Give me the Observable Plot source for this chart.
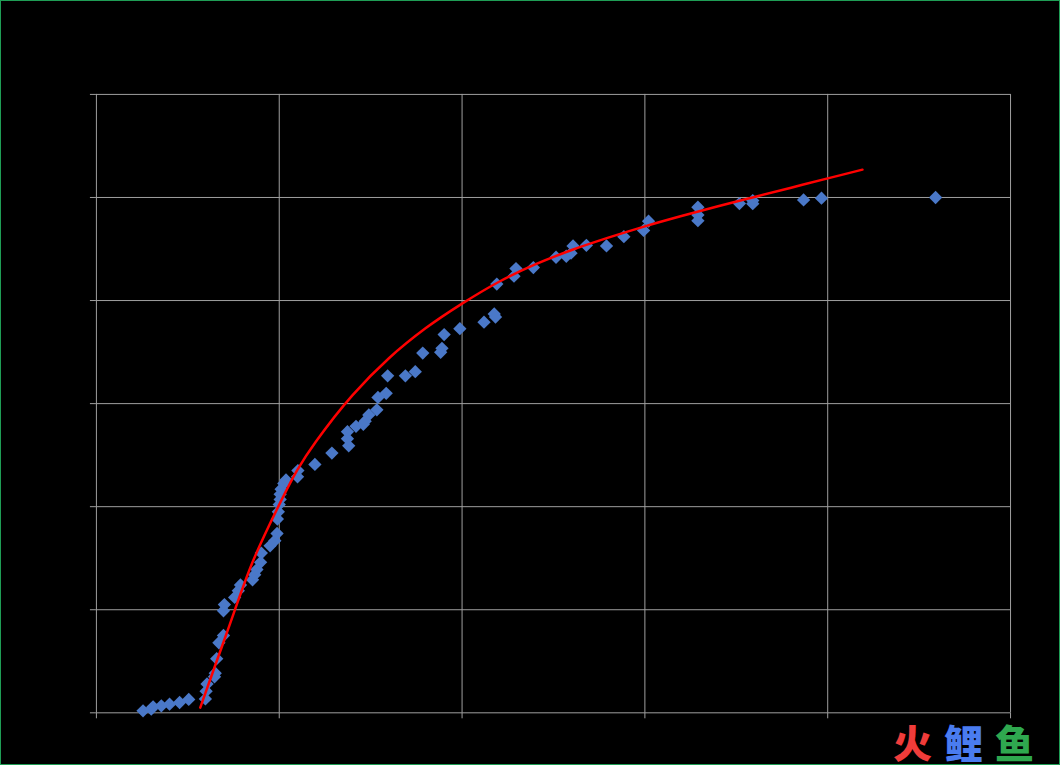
<!DOCTYPE html>
<html>
<head>
<meta charset="utf-8">
<script src="https://cdn.jsdelivr.net/npm/d3@7"></script>
<script src="https://cdn.jsdelivr.net/npm/@observablehq/plot@0.6"></script>
<style>
  html, body { margin: 0; padding: 0; background: #000; }
  #wrap { position: relative; width: 1060px; height: 765px; box-sizing: border-box; border: 1px solid #1f9d55; background: #000; overflow: hidden; }
  #chart { position: absolute; left: -1px; top: -1px; }
  #mark { position: absolute; left: 892px; top: 721px; font-family: "Noto Sans CJK SC", sans-serif; font-weight: 900; font-size: 39px; letter-spacing: 12px; line-height: 1; white-space: nowrap; }
</style>
</head>
<body>
<div id="wrap">
  <div id="chart"></div>
  <div id="mark"><span style="color:#f03c3a">火</span><span style="color:#4a7cf0">鲤</span><span style="color:#2fa84f;letter-spacing:0">鱼</span></div>
</div>
<script>
// Scatter observations
const obsX = [2.55,3.0,3.1,3.55,4.0,4.55,5.05,5.96,6.0,6.05,6.46,6.5,6.58,6.7,6.95,6.95,7.0,7.56,7.76,7.88,8.54,8.66,8.78,8.98,9.02,9.5,9.76,9.88,9.9,9.95,10.0,10.05,10.05,10.1,10.25,10.37,11.0,11.02,11.95,12.88,13.8,13.73,13.73,14.2,14.6,14.7,14.9,15.34,15.4,15.85,15.93,16.9,17.44,17.85,18.83,18.9,19.02,19.88,21.2,21.76,21.83,21.9,22.84,22.95,23.9,25.14,25.7,25.96,26.07,26.8,27.9,28.85,29.93,30.2,32.9,32.9,32.9,35.17,35.9,35.9,38.68,39.66,45.9];
const obsY = [0.19,0.36,0.58,0.68,0.84,1.0,1.3,1.35,2.1,2.8,3.5,3.85,5.25,6.8,7.5,9.9,10.5,11.2,11.85,12.4,12.9,13.4,13.9,14.6,15.5,16.2,16.7,17.4,18.8,19.5,20.2,20.7,21.2,21.7,22.25,22.6,22.9,23.5,24.1,25.2,25.9,26.6,27.28,27.8,28.0,28.3,28.9,29.4,30.6,31.0,32.7,32.7,33.1,34.9,34.98,35.36,36.7,37.27,37.9,38.7,38.4,41.6,42.36,43.1,43.2,44.2,44.3,44.6,45.3,45.36,45.3,46.2,46.8,47.7,47.75,48.3,49.05,49.41,49.4,49.7,49.76,49.93,50.0];
// Trend line
const trendX = [5.68,7.1,8.56,10,11,12,14,16,18,20,22,24,26,28,30,32,34,36,38,40,41.9];
const trendY = [0.5,7.6,14.7,20.2,23.6,26.3,30.8,34.4,37.3,39.7,41.8,43.5,44.9,46.1,47.2,48.2,49.15,50.05,50.95,51.85,52.7];
// Axis ticks
const xTicks = [0,10,20,30,40,50];
const yTicks = [0,10,20,30,40,50,60];

const points = obsX.map((x, i) => ({x, y: obsY[i]}));
const trend = trendX.map((x, i) => ({x, y: trendY[i]}));

const grid = "#a0a0a0";
const chart = Plot.plot({
  width: 1060,
  height: 765,
  marginLeft: 96,
  marginTop: 94,
  marginRight: 49,
  marginBottom: 52,
  style: { background: "#000", fontFamily: "Liberation Sans, sans-serif", fontSize: "11px" },
  x: { domain: [0, 50] },
  y: { domain: [0, 60] },
  marks: [
    Plot.gridX(xTicks, { stroke: grid, strokeOpacity: 1 }),
    Plot.gridY(yTicks, { stroke: grid, strokeOpacity: 1 }),
    Plot.axisX(xTicks, { tickSize: 6, stroke: grid, strokeOpacity: 1, fill: "#000", tickPadding: 2 }),
    Plot.axisY(yTicks, { tickSize: 6, stroke: grid, strokeOpacity: 1, fill: "#000", tickPadding: 4 }),
    Plot.dot(points, { x: "x", y: "y", symbol: "diamond2", r: 6, fill: "#4a78c8", stroke: "none" }),
    Plot.line(trend, { x: "x", y: "y", stroke: "#ff0000", strokeWidth: 2.5, curve: "catmull-rom" })
  ]
});
document.getElementById("chart").appendChild(chart);
</script>
</body>
</html>
